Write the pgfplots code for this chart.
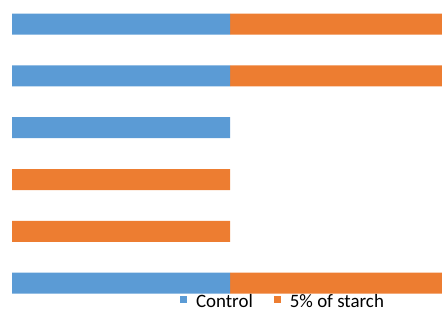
\documentclass[border=0pt]{standalone}
\usepackage{fontspec}
\setmainfont{Carlito}
\usepackage{pgfplots}
\pgfplotsset{compat=1.18}
\definecolor{ctrl}{HTML}{5B9BD5}
\definecolor{starch}{HTML}{ED7D31}
\begin{document}
\begin{tikzpicture}
\useasboundingbox (0,0) rectangle (442bp,313bp);
\clip (0,0) rectangle (442bp,313bp);
\begin{axis}[
  at={(12bp,4bp)}, anchor=south west,
  scale only axis,
  width=436bp, height=310.8bp,
  xmin=0, xmax=2, ymin=0.5, ymax=6.5,
  hide axis,
  xbar stacked,
  bar width=21bp,
  legend columns=2,
  legend style={draw=none, fill=none, inner sep=0pt,
    at={(rel axis cs:0.385,0.022)}, anchor=west,
    font=\fontsize{19}{20}\selectfont,
    /tikz/every odd column/.append style={column sep=7bp},
    /tikz/every even column/.append style={column sep=19bp}},
  legend image code/.code={\fill[#1] (0bp,-0.5bp) rectangle (7bp,6.5bp);},
]
\addplot[fill=ctrl, draw=none] coordinates {(1,6) (1,5) (1,4) (0,3) (0,2) (1,1)};
\addlegendentry{Control}
\addplot[fill=starch, draw=none] coordinates {(1,6) (1,5) (0,4) (1,3) (1,2) (1,1)};
\addlegendentry{5\% of starch}
\end{axis}
\end{tikzpicture}
\end{document}
